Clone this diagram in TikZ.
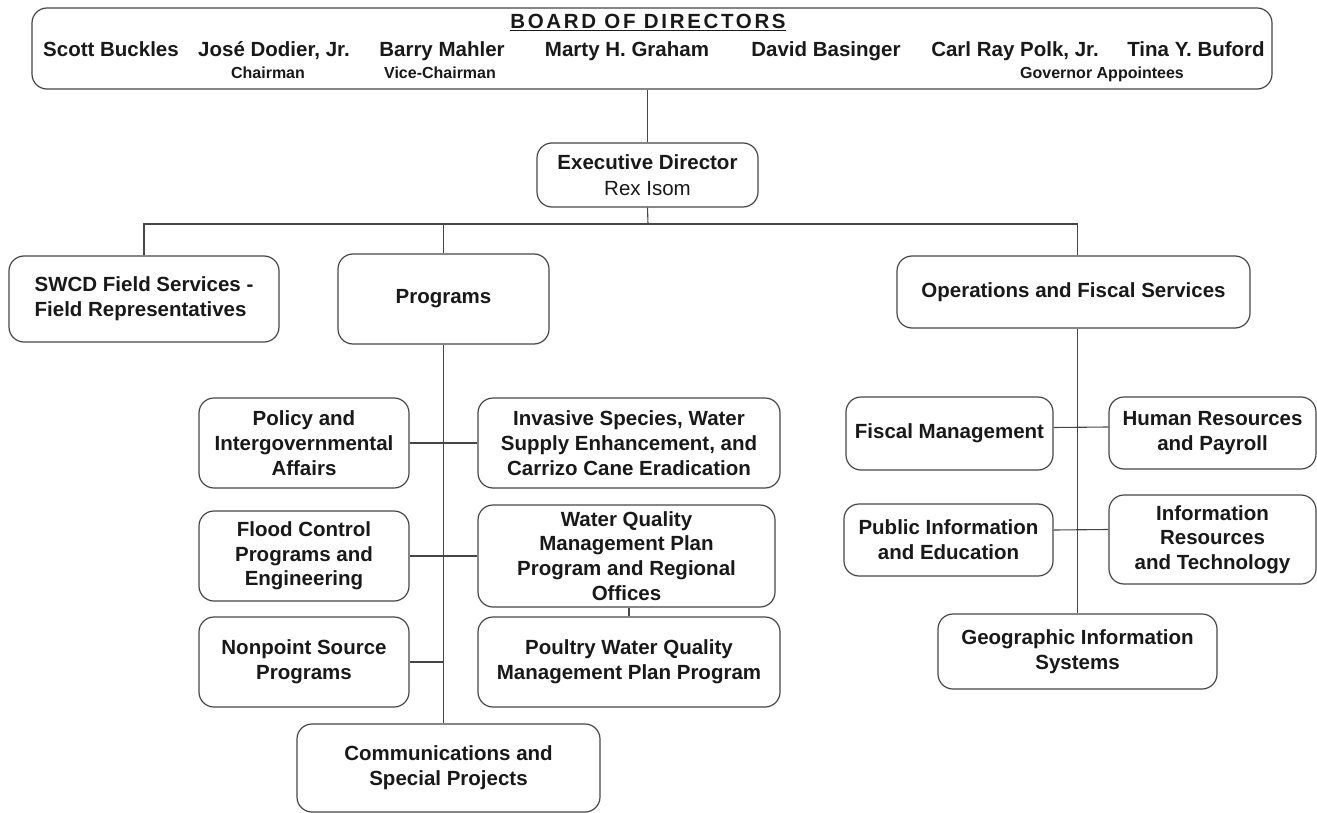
\documentclass[tikz,border=0pt]{standalone}
\usepackage{fontspec}
\setmainfont{Liberation Sans}
\definecolor{boxline}{RGB}{70,70,70}
\definecolor{txt}{RGB}{25,25,25}
\tikzset{
  every node/.style={font=\fontsize{20.5}{24.7}\selectfont\bfseries, text=txt},
  orgbox/.style={draw=boxline, line width=1.2pt, rounded corners=15, fill=white, align=center, inner sep=0pt},
  lbl/.style={inner sep=0pt, anchor=base},
  sublbl/.style={inner sep=0pt, anchor=base, font=\fontsize{16}{18}\selectfont\bfseries},
  conn/.style={draw=boxline, line width=1.1pt}
}
\begin{document}
\begin{tikzpicture}[x=1pt,y=-1pt]
\useasboundingbox (0,0) rectangle (1317,813);
% board
\node[orgbox, minimum width=1240, minimum height=81] (board) at (652,48.5) {};
\node[lbl] (bhead) at (648,28.5) {\underline{\addfontfeature{LetterSpace=13}BOARD OF DIRECTORS}};
\node[lbl] (n1) at (111,57) {Scott Buckles};
\node[lbl] (n2) at (274,57) {José Dodier, Jr.};
\node[lbl] (n3) at (442,57) {Barry Mahler};
\node[lbl] (n4) at (627,57) {Marty H. Graham};
\node[lbl] (n5) at (826,57) {David Basinger};
\node[lbl] (n6) at (1015,57) {Carl Ray Polk, Jr.};
\node[lbl] (n7) at (1196,57) {Tina Y. Buford};
\node[sublbl] (s2) at (268,78.5) {Chairman};
\node[sublbl] (s3) at (440,78.5) {Vice-Chairman};
\node[sublbl] (s6) at (1102,78.5) {Governor Appointees};
% executive
\node[orgbox, minimum width=221, minimum height=64] (exec) at (647.5,175) {Executive Director\\[1pt]{\mdseries Rex Isom}};
% level 2
\node[orgbox, minimum width=270, minimum height=86, align=left] (swcd) at (144,299) {SWCD Field Services -\\Field Representatives};
\node[orgbox, minimum width=211, minimum height=90] (prog) at (443.5,299) {Programs};
\node[orgbox, minimum width=353, minimum height=72] (ops) at (1073.5,292) {Operations and Fiscal Services};
% programs
\node[orgbox, minimum width=210, minimum height=90] (policy) at (304,443) {Policy and\\Intergovernmental\\Affairs};
\node[orgbox, minimum width=302, minimum height=90] (invasive) at (629,443) {Invasive Species, Water\\Supply Enhancement, and\\Carrizo Cane Eradication};
\node[orgbox, minimum width=210, minimum height=90] (flood) at (304,556) {Flood Control\\Programs and\\Engineering};
\node[orgbox, minimum width=297, minimum height=102] (wq) at (626.5,556) {Water Quality\\Management Plan\\Program and Regional\\Offices};
\node[orgbox, minimum width=210, minimum height=90] (nonpoint) at (304,662) {Nonpoint Source\\Programs};
\node[orgbox, minimum width=302, minimum height=90] (poultry) at (629,662) {Poultry Water Quality\\Management Plan Program};
\node[orgbox, minimum width=303, minimum height=88] (comms) at (448.5,768) {Communications and\\Special Projects};
% operations
\node[orgbox, minimum width=207, minimum height=73] (fiscal) at (949.5,433.5) {Fiscal Management};
\node[orgbox, minimum width=207, minimum height=72] (hr) at (1212.5,433) {Human Resources\\and Payroll};
\node[orgbox, minimum width=209, minimum height=72] (public) at (948.5,540) {Public Information\\and Education};
\node[orgbox, minimum width=207, minimum height=89] (infores) at (1212.5,539.5) {Information\\Resources\\and Technology};
\node[orgbox, minimum width=279, minimum height=75] (geo) at (1077.5,651.5) {Geographic Information\\Systems};
% connectors
\coordinate (bus) at (648,224);
\draw[conn] (exec.north) -- (exec.north |- board.south);
\draw[conn] (exec.south) -- (bus);
\draw[conn] (swcd.north) -- (swcd.north |- bus) -- (geo.north |- bus) -- (geo.north |- ops.north);
\draw[conn] (prog.north) -- (prog.north |- bus);
\draw[conn] (prog.south) -- (prog.south |- comms.north);
\draw[conn] (policy.east) -- (invasive.west);
\draw[conn] (flood.east) -- (wq.west);
\draw[conn] (nonpoint.east) -- (nonpoint.east -| prog.south);
\draw[conn] (poultry.north) -- (poultry.north |- wq.south);
\draw[conn] (geo.north |- ops.south) -- (geo.north);
\draw[conn] ([yshift=6]fiscal.east) -- ([yshift=6]hr.west);
\draw[conn] ([yshift=10]public.east) -- ([yshift=10]infores.west);
\end{tikzpicture}
\end{document}
